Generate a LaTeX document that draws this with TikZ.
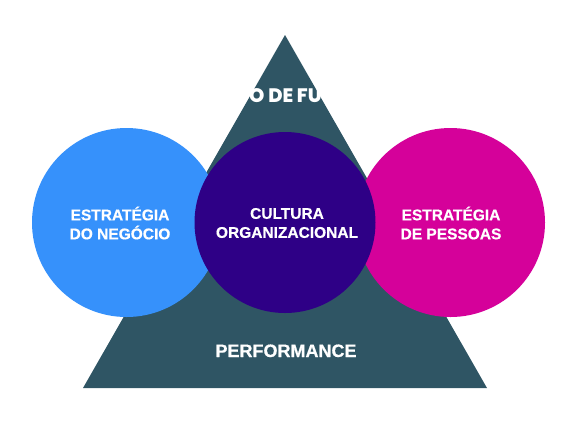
\documentclass[tikz,border=0pt]{standalone}
\usepackage{fontspec}
\setmainfont{Liberation Sans}
\newfontfamily\heavyfont{Poppins ExtraBold}
\newfontfamily\boldfont[FakeBold=0.6]{Liberation Sans Bold}
\usetikzlibrary{shapes}

\definecolor{pyramid}{HTML}{2F5564}
\definecolor{negocio}{HTML}{3691FB}
\definecolor{cultura}{HTML}{2E0086}
\definecolor{pessoas}{HTML}{D5019A}

\begin{document}
\begin{tikzpicture}[x=1pt, y=-1pt,
    area/.style={circle, minimum size=189pt, inner sep=0pt},
    areatext/.style={text=white, align=center, inner sep=0pt,
        font=\fontsize{15.5}{19}\boldfont},
    label/.style={text=white, font=\fontsize{18}{20}\boldfont}]
    \useasboundingbox (0,0) rectangle (578,424);
    % piramide ao fundo
    \fill [pyramid] (285,35) -- (487,388) -- (83,388) -- cycle;
    \node[text=white, font=\fontsize{19.5}{20}\heavyfont, anchor=base] (topo) at (285.5,102.7) {O DE FU};
    % os tres circulos
    \node[area, fill=negocio] (negocio) at (126.5,222.5) {};
    \node[area, fill=pessoas] (pessoas) at (450.5,222.5) {};
    \node[area, fill=cultura, minimum size=181pt] (cultura) at (285,222.5) {};
    \node[areatext] (negociotxt) at (120,223) {ESTRATÉGIA\\DO NEGÓCIO};
    \node[areatext] (pessoastxt) at (451,223) {ESTRATÉGIA\\DE PESSOAS};
    \node[areatext] (culturatxt) at (287,223) {CULTURA\\ORGANIZACIONAL};
    \node[label, anchor=base] (performance) at (286,357) {PERFORMANCE};
\end{tikzpicture}
\end{document}
